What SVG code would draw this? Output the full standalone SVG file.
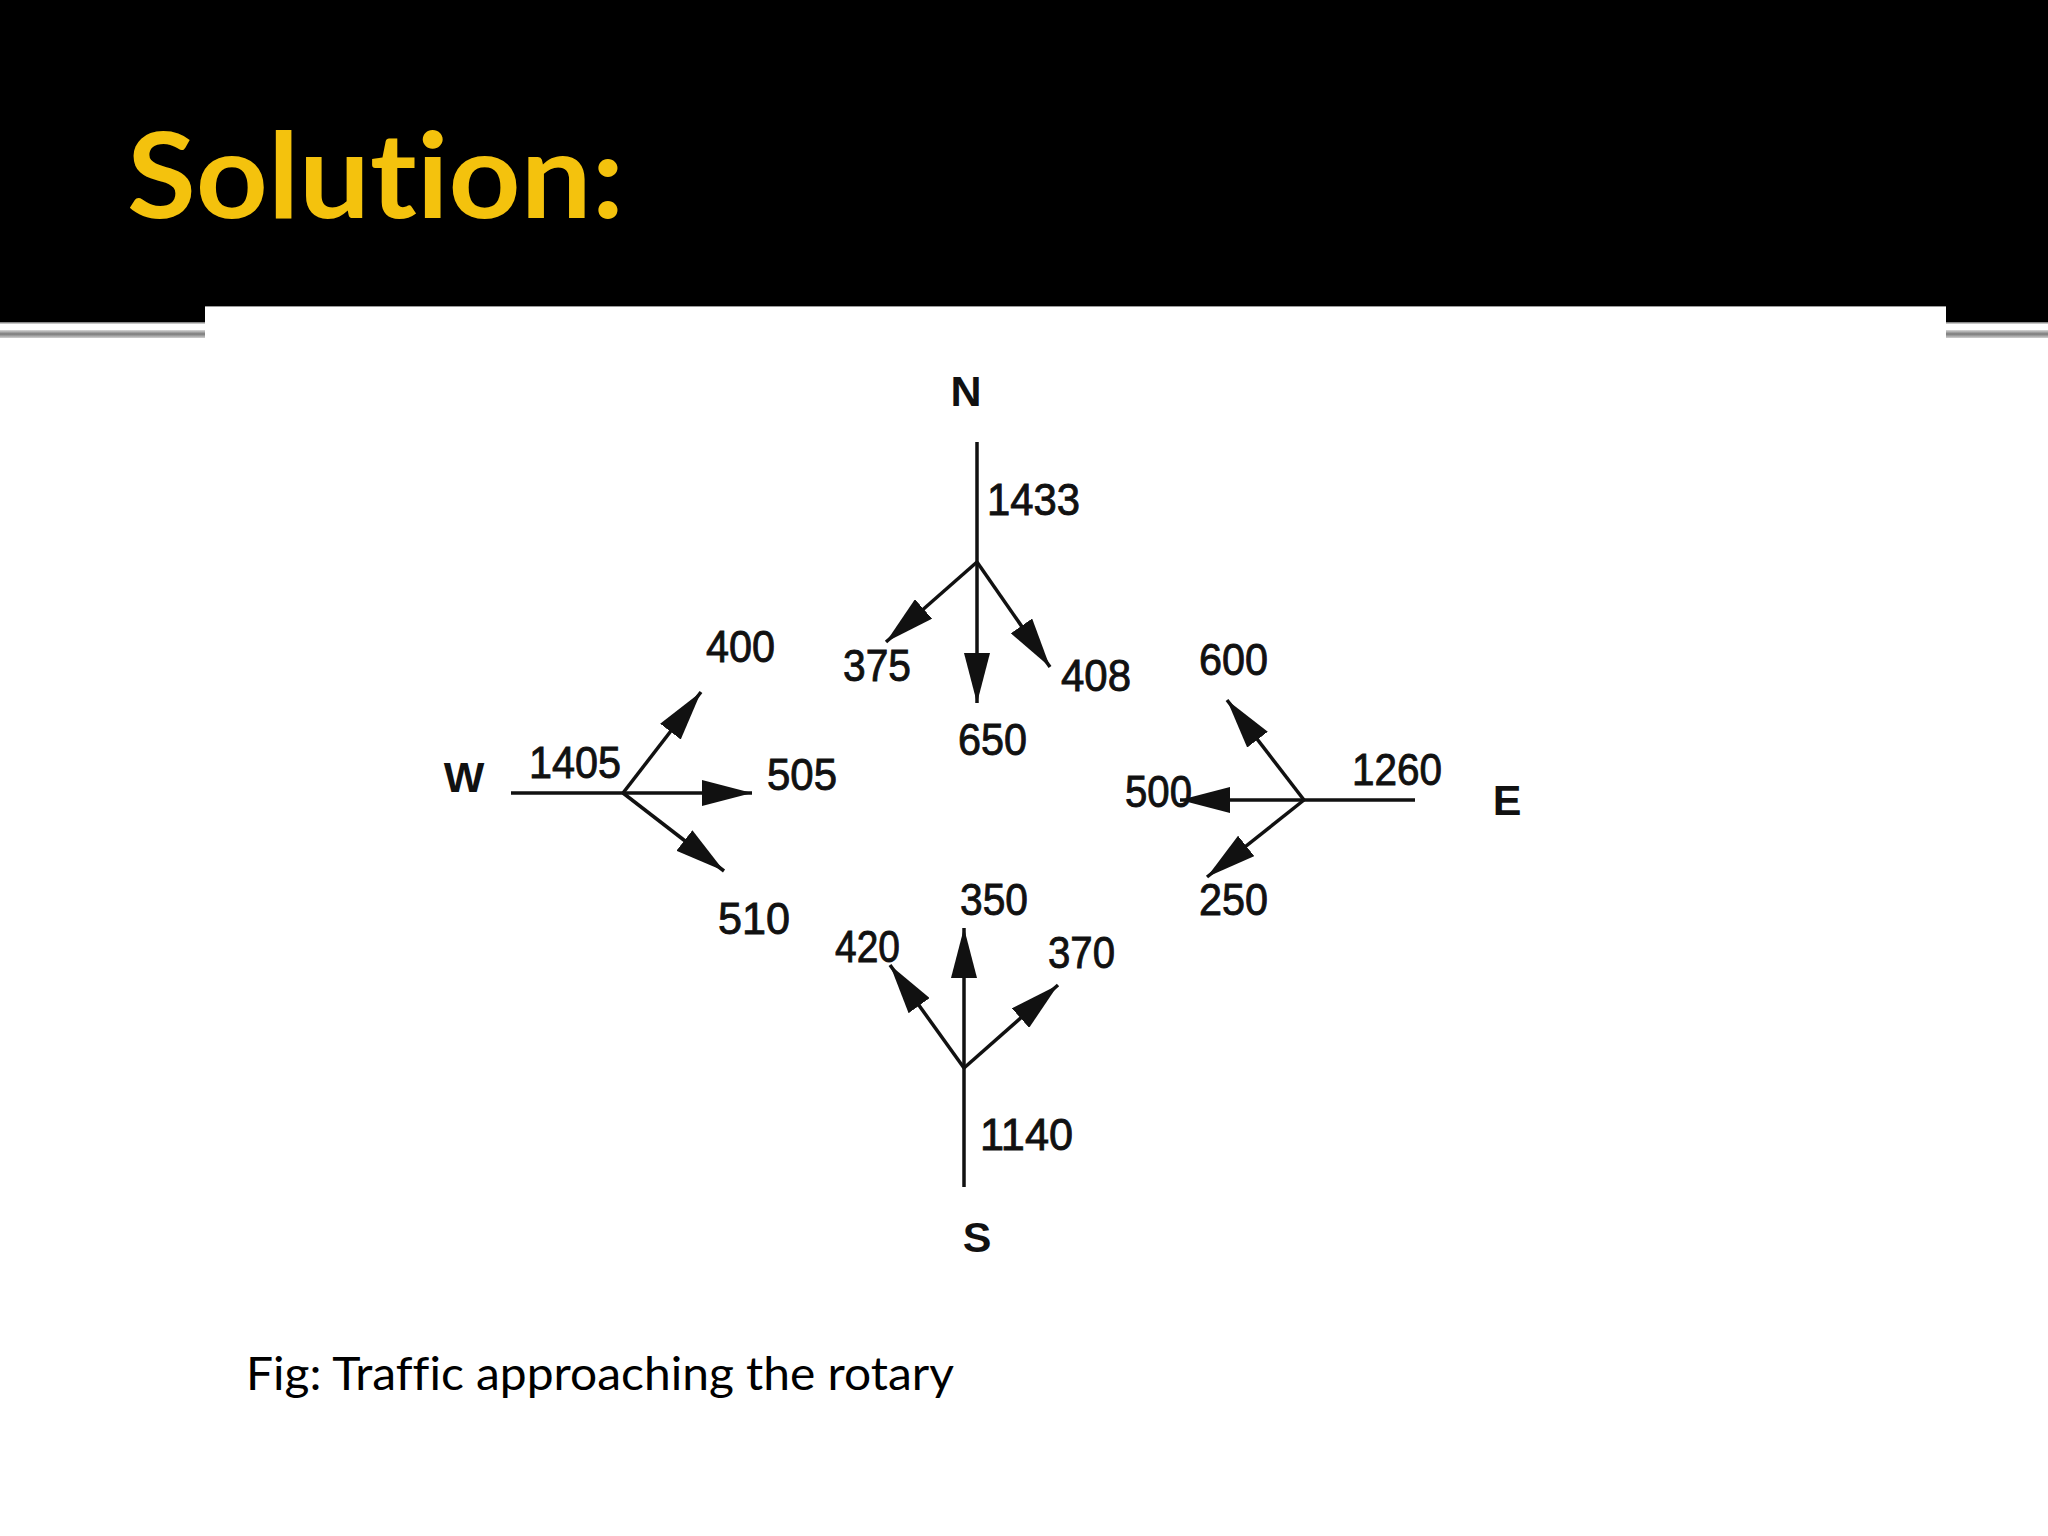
<svg xmlns="http://www.w3.org/2000/svg" width="2048" height="1536" viewBox="0 0 2048 1536">
  <style>
    .num { font-family: "Liberation Sans", Arial, sans-serif; font-size: 45px; fill: #111; stroke: #111; stroke-width: 0.9px; }
    .dir { font-family: "Liberation Sans", Arial, sans-serif; font-size: 43px; font-weight: bold; fill: #111; text-anchor: middle; }
    .road { stroke: #111; stroke-width: 3.5; fill: none; }
    .arr { stroke: #111; stroke-width: 3.5; fill: none; marker-end: url(#head); }
  </style>
  <defs>
    <marker id="head" viewBox="0 0 50 26" markerWidth="50" markerHeight="26" refX="50" refY="13" orient="auto" markerUnits="userSpaceOnUse">
      <path d="M0,0 L50,13 L0,26 z" fill="#111"/>
    </marker>
    <linearGradient id="bar" x1="0" y1="0" x2="0" y2="1">
      <stop offset="0" stop-color="#d8d8d8"/>
      <stop offset="0.5" stop-color="#7a7a7a"/>
      <stop offset="1" stop-color="#d0d0d0"/>
    </linearGradient>
  </defs>

  <g id="background">
    <rect x="0" y="0" width="2048" height="1536" fill="#ffffff"/>
    <rect x="0" y="0" width="2048" height="322" fill="#000000"/>
    <rect x="0" y="322" width="2048" height="1.5" fill="#8a8a8a"/>
    <rect x="0" y="330" width="2048" height="8" fill="url(#bar)"/>
    <rect x="205" y="306" width="1741" height="1230" fill="#ffffff"/>
    <line x1="205" y1="306.5" x2="1946" y2="306.5" stroke="#9a9a9a" stroke-width="1"/>
  </g>

  <g id="title">
    <text x="127" y="218" font-family="Lato, 'Open Sans', sans-serif" font-weight="bold" font-size="118" fill="#F4C20D" style="font-variant-ligatures: none" textLength="497" lengthAdjust="spacingAndGlyphs">Solution:</text>
  </g>

  <g id="connectors">
    <!-- North -->
    <line class="road" x1="977" y1="442" x2="977" y2="562"/>
    <line class="arr" x1="977" y1="562" x2="977" y2="703"/>
    <line class="arr" x1="977" y1="562" x2="886" y2="642"/>
    <line class="arr" x1="977" y1="562" x2="1050" y2="667"/>
    <!-- West -->
    <line class="road" x1="511" y1="793" x2="623" y2="793"/>
    <line class="arr" x1="623" y1="793" x2="752" y2="793"/>
    <line class="arr" x1="623" y1="793" x2="701" y2="692"/>
    <line class="arr" x1="623" y1="793" x2="724" y2="871"/>
    <!-- East -->
    <line class="road" x1="1415" y1="800" x2="1304" y2="800"/>
    <line class="arr" x1="1304" y1="800" x2="1180" y2="800"/>
    <line class="arr" x1="1304" y1="800" x2="1227" y2="700"/>
    <line class="arr" x1="1304" y1="800" x2="1207" y2="877"/>
    <!-- South -->
    <line class="road" x1="964" y1="1187" x2="964" y2="1068"/>
    <line class="arr" x1="964" y1="1068" x2="964" y2="928"/>
    <line class="arr" x1="964" y1="1068" x2="890" y2="965"/>
    <line class="arr" x1="964" y1="1068" x2="1058" y2="985"/>
  </g>

  <g id="node-north">
    <text class="dir" x="966" y="406">N</text>
    <text class="num" x="987" y="515" textLength="93" lengthAdjust="spacingAndGlyphs">1433</text>
    <text class="num" x="843" y="681" textLength="68" lengthAdjust="spacingAndGlyphs">375</text>
    <text class="num" x="958" y="755" textLength="69" lengthAdjust="spacingAndGlyphs">650</text>
    <text class="num" x="1061" y="691" textLength="70" lengthAdjust="spacingAndGlyphs">408</text>
  </g>

  <g id="node-west">
    <text class="dir" x="464" y="792">W</text>
    <text class="num" x="529" y="778" textLength="92" lengthAdjust="spacingAndGlyphs">1405</text>
    <text class="num" x="706" y="662" textLength="69" lengthAdjust="spacingAndGlyphs">400</text>
    <text class="num" x="767" y="790" textLength="70" lengthAdjust="spacingAndGlyphs">505</text>
    <text class="num" x="718" y="934" textLength="72" lengthAdjust="spacingAndGlyphs">510</text>
  </g>

  <g id="node-east">
    <text class="dir" x="1507" y="815">E</text>
    <text class="num" x="1352" y="785" textLength="90" lengthAdjust="spacingAndGlyphs">1260</text>
    <text class="num" x="1199" y="675" textLength="69" lengthAdjust="spacingAndGlyphs">600</text>
    <text class="num" x="1125" y="807" textLength="67" lengthAdjust="spacingAndGlyphs">500</text>
    <text class="num" x="1199" y="915" textLength="69" lengthAdjust="spacingAndGlyphs">250</text>
  </g>

  <g id="node-south">
    <text class="dir" x="977" y="1252">S</text>
    <text class="num" x="980" y="1150" textLength="93" lengthAdjust="spacingAndGlyphs">1140</text>
    <text class="num" x="960" y="915" textLength="68" lengthAdjust="spacingAndGlyphs">350</text>
    <text class="num" x="835" y="962" textLength="65" lengthAdjust="spacingAndGlyphs">420</text>
    <text class="num" x="1048" y="968" textLength="67" lengthAdjust="spacingAndGlyphs">370</text>
  </g>

  <g id="caption">
    <text x="246" y="1390" font-family="Lato, 'Open Sans', sans-serif" font-size="47" fill="#000" style="font-variant-ligatures: none" textLength="708" lengthAdjust="spacingAndGlyphs">Fig: Traffic approaching the rotary</text>
  </g>
</svg>
